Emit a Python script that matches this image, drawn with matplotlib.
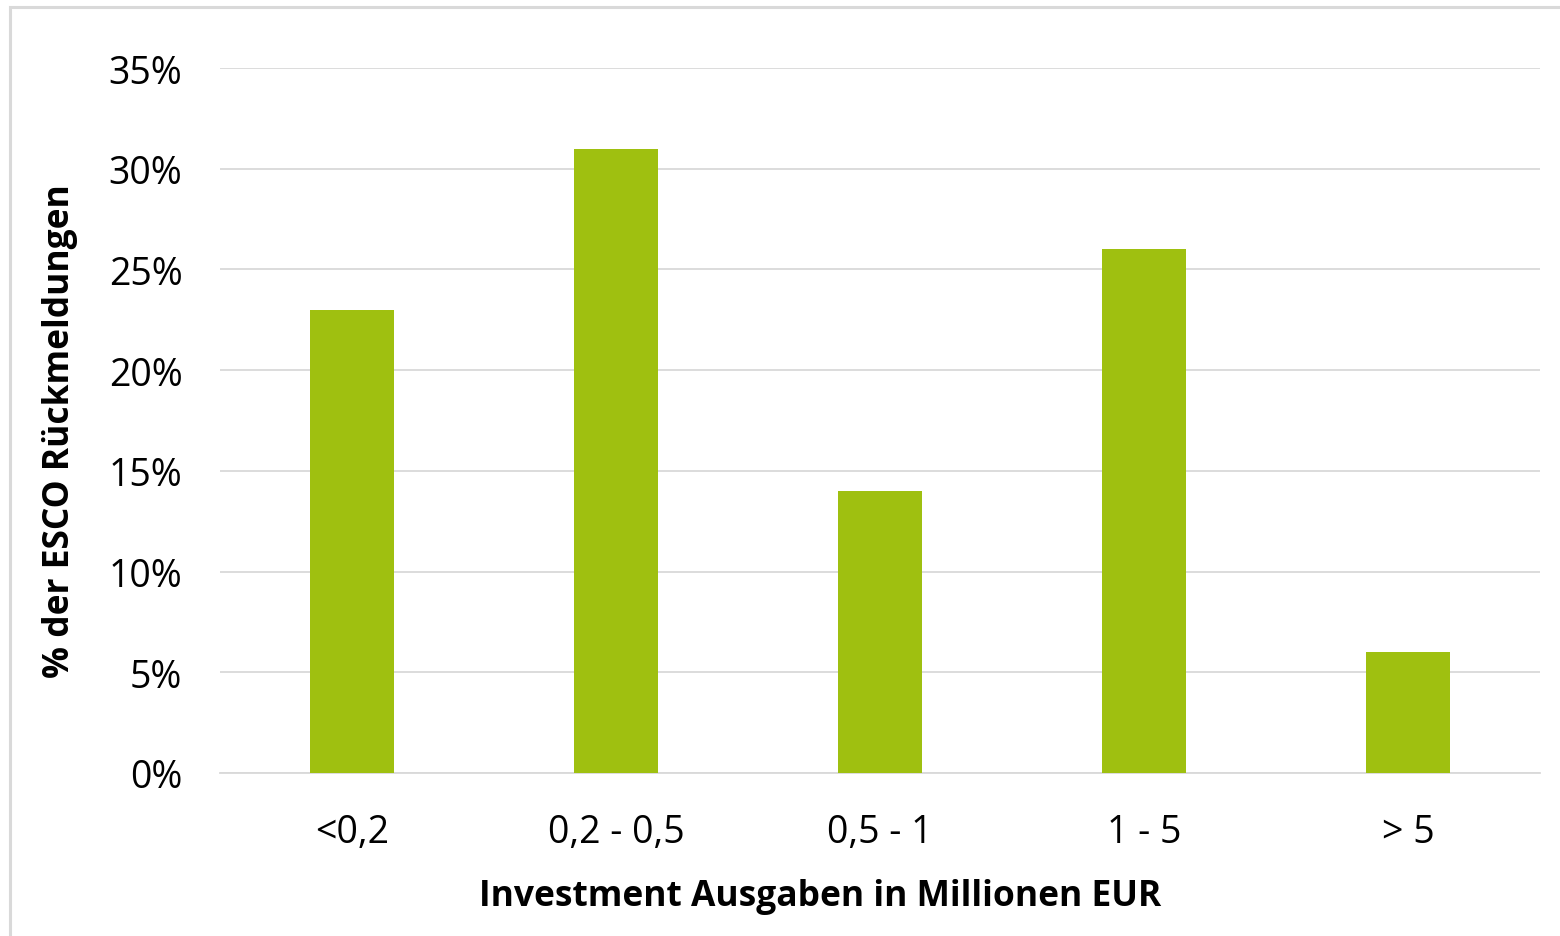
import matplotlib
matplotlib.use("Agg")
import matplotlib.pyplot as plt
from matplotlib.patches import Rectangle
from matplotlib.ticker import FuncFormatter

categories = ["<0,2", "0,2 - 0,5", "0,5 - 1", "1 - 5", "> 5"]
values = [0.23, 0.31, 0.14, 0.26, 0.06]
yticks = [0, 0.05, 0.10, 0.15, 0.20, 0.25, 0.30, 0.35]
xlabel = "Investment Ausgaben in Millionen EUR"
ylabel = "% der ESCO Rückmeldungen"

plt.rcParams['font.family'] = ['Open Sans', 'DejaVu Sans']

W, H = 1560, 937
fig = plt.figure(figsize=(W / 100, H / 100), dpi=100)
fig.patches.append(Rectangle((10/W, -0.1), 2.0, 1 - 8/H + 0.1, transform=fig.transFigure,
                             fill=False, edgecolor='#d9d9d9', linewidth=2.2, zorder=0))

ax = fig.add_axes([220/W, 1 - 774/H, 1320/W, 705/H])
x = list(range(len(categories)))
ax.bar(x, values, width=0.315, color='#9fc010', zorder=3)
ax.set_xlim(-0.5, len(categories) - 0.5)
ax.set_ylim(0, 0.35)
ax.set_yticks(yticks)
ax.yaxis.set_major_formatter(FuncFormatter(lambda v, p: f"{v*100:.0f}%"))
ax.set_xticks(x)
ax.set_xticklabels(categories)
ax.grid(axis='y', color='#d9d9d9', linewidth=1.3, zorder=0)
for s in ['top', 'right', 'left']:
    ax.spines[s].set_visible(False)
ax.spines['bottom'].set_color('#d9d9d9')
ax.spines['bottom'].set_linewidth(1.3)
ax.tick_params(axis='both', length=0, labelsize=27, colors='#000000')
ax.tick_params(axis='y', pad=27)
ax.tick_params(axis='x', pad=29)

fig.text(820/W, 1 - 897/H, xlabel, fontsize=25.5, fontweight='bold',
         ha='center', va='center')
fig.text(60/W, 1 - 431/H, ylabel, fontsize=25.5, fontweight='bold',
         ha='center', va='center', rotation=90)

fig.savefig("out.png", dpi=100)
